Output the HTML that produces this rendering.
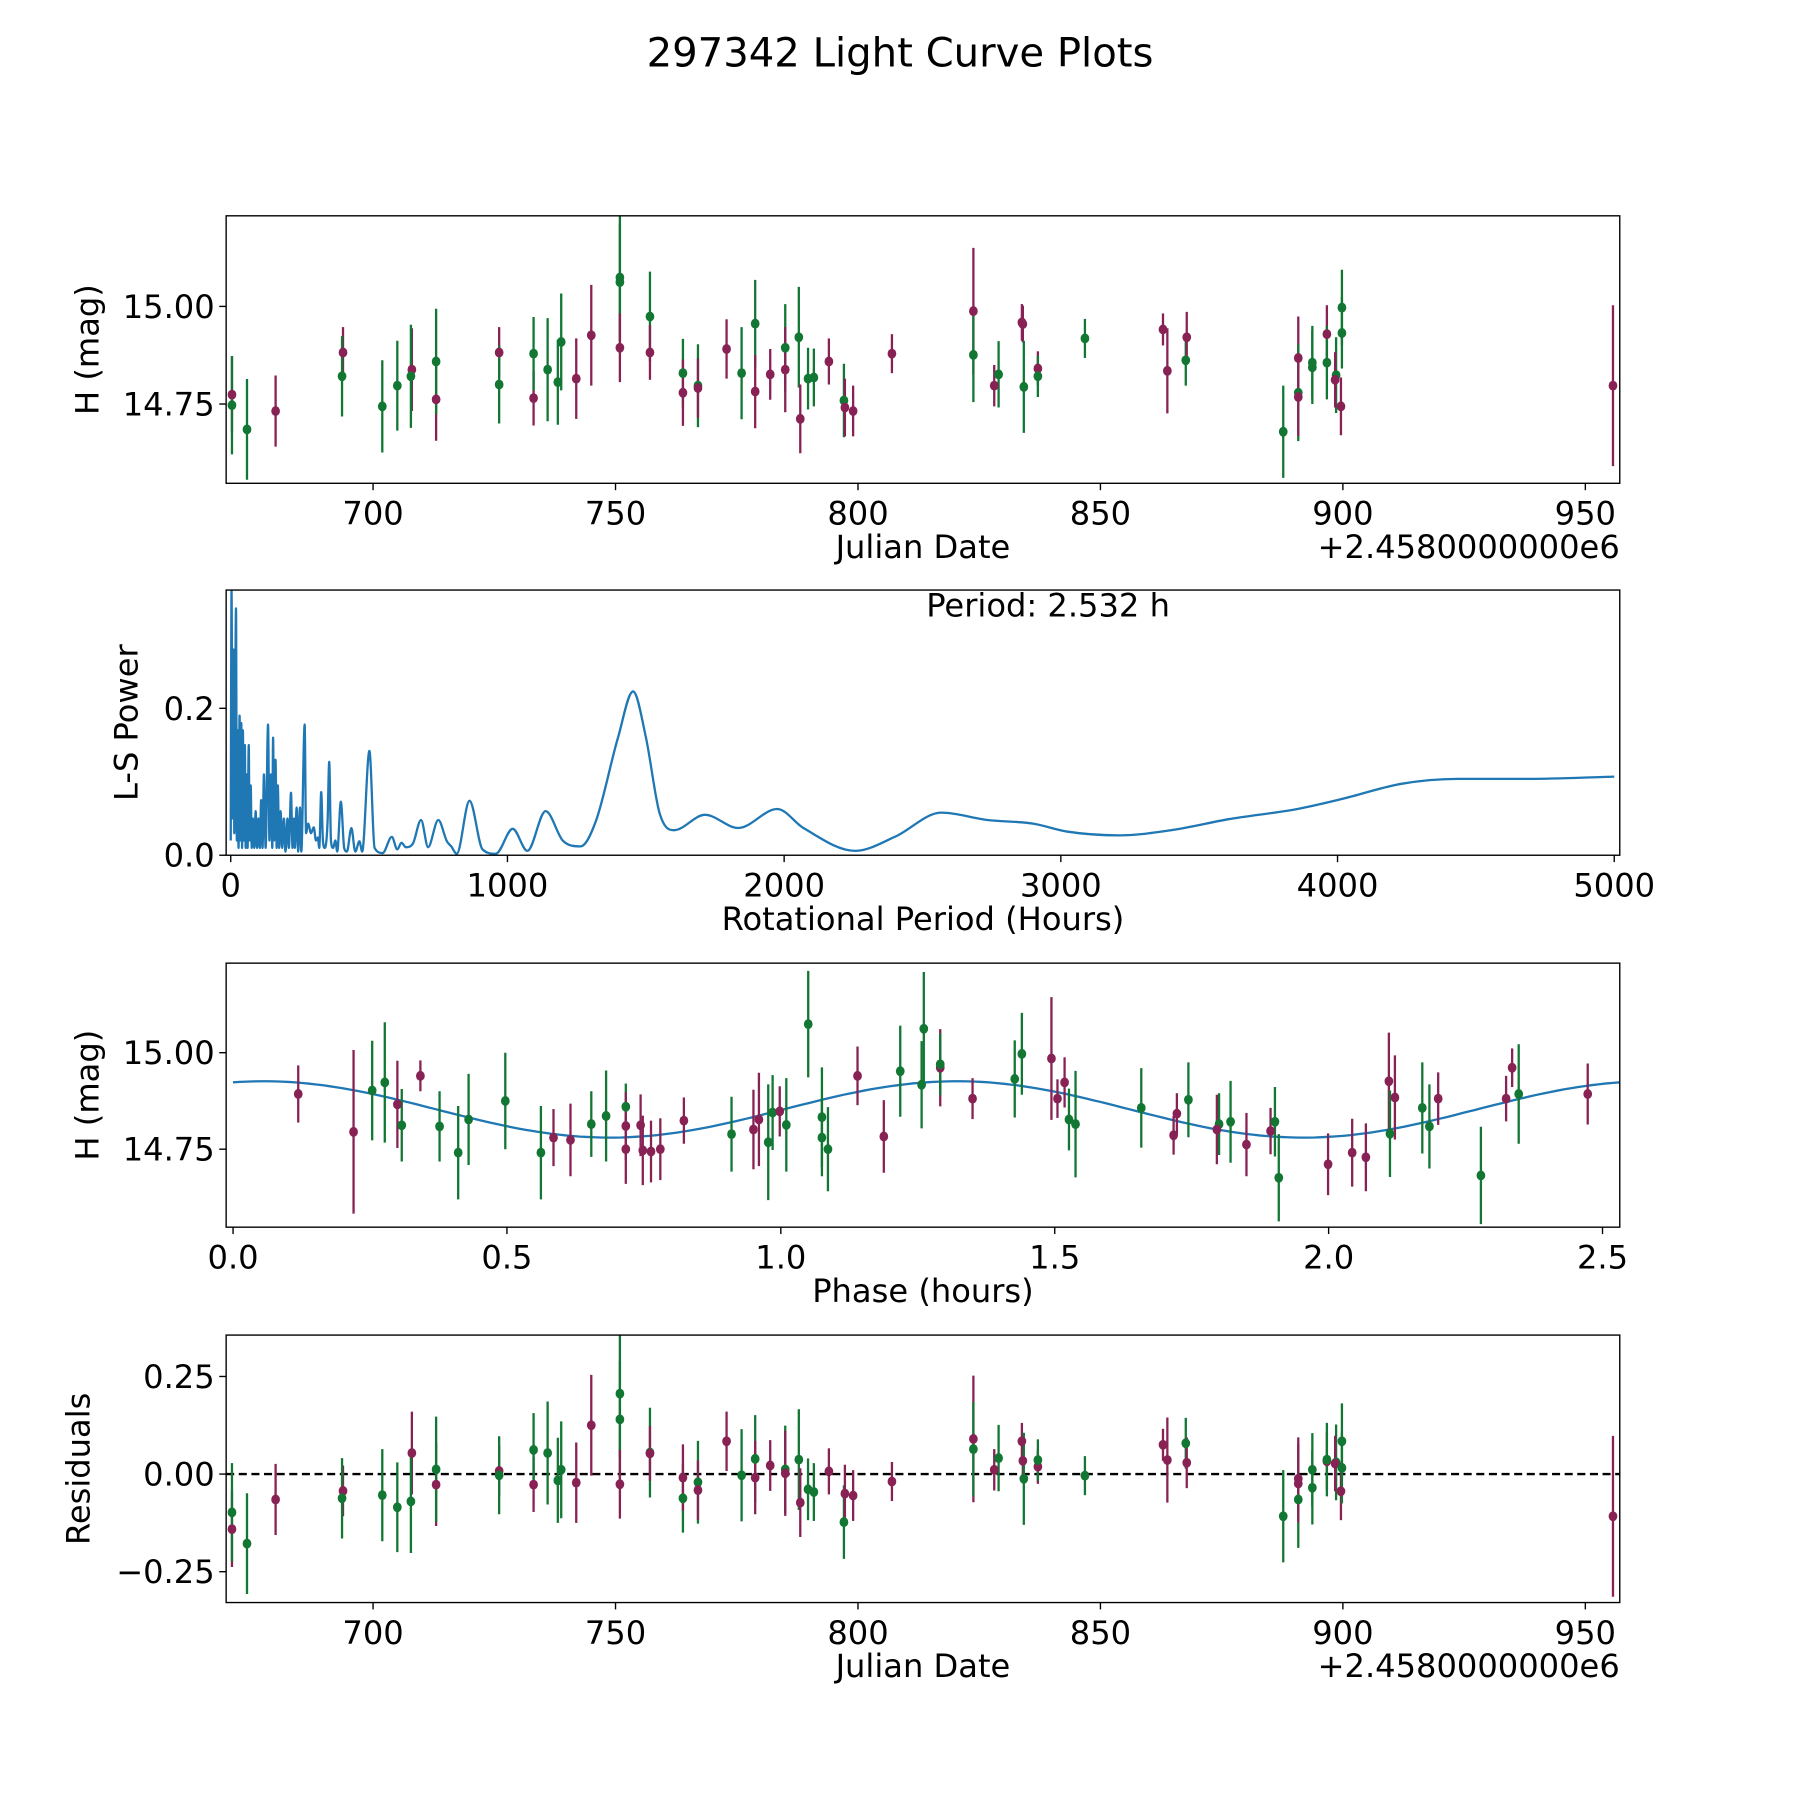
<!DOCTYPE html>
<html><head><meta charset="utf-8"><style>
html,body{margin:0;padding:0;background:#fff;}
svg{display:block;font-family:"DejaVu Sans","Liberation Sans",sans-serif;}
</style></head><body>
<svg id="fig" width="1800" height="1800" viewBox="0 0 1568 1568" xmlns="http://www.w3.org/2000/svg">
<rect width="1568" height="1568" fill="#fff"/>
<text x="784" y="58" font-size="35" text-anchor="middle">297342 Light Curve Plots</text>
<g id="p1"></g>
<g id="p2"></g>
<g id="p3"></g>
<g id="p4"></g>
</svg>
<script>
// Light curve data (Julian date offset, H mag, error, filter)
const dates=[670.9,670.9,674.0,679.9,693.8,693.6,701.9,705.0,708.0,707.8,713.0,713.0,726.0,726.0,733.1,733.1,736.0,738.1,738.8,741.9,745.0,750.9,750.9,750.9,757.1,757.1,763.9,763.9,767.0,767.0,772.9,776.0,778.8,778.8,781.9,785.0,785.0,787.8,788.1,789.7,790.9,794.0,797.1,797.3,799.0,807.0,823.8,823.8,828.1,829.0,833.8,834.0,834.2,837.1,837.1,846.8,862.9,863.8,867.6,867.8,887.7,890.8,890.8,890.8,893.7,893.7,896.7,896.7,898.6,898.4,899.6,899.8,899.8,955.7];
const mags=[14.774,14.747,14.685,14.732,14.882,14.821,14.744,14.797,14.838,14.821,14.762,14.859,14.882,14.8,14.765,14.879,14.838,14.806,14.909,14.815,14.926,15.074,15.062,14.894,14.974,14.882,14.829,14.779,14.797,14.791,14.891,14.829,14.956,14.782,14.826,14.894,14.838,14.921,14.712,14.815,14.818,14.859,14.759,14.741,14.732,14.879,14.988,14.876,14.797,14.826,14.959,14.955,14.794,14.841,14.821,14.918,14.941,14.835,14.862,14.921,14.679,14.868,14.779,14.768,14.856,14.844,14.929,14.856,14.824,14.812,14.744,14.997,14.932,14.797];
const errs=[0.097,0.126,0.129,0.091,0.065,0.103,0.118,0.115,0.106,0.132,0.106,0.135,0.065,0.1,0.07,0.094,0.132,0.109,0.124,0.103,0.129,0.165,0.15,0.088,0.115,0.07,0.088,0.085,0.106,0.076,0.076,0.118,0.112,0.094,0.065,0.112,0.109,0.129,0.088,0.079,0.074,0.059,0.094,0.074,0.065,0.05,0.162,0.121,0.053,0.085,0.047,0.047,0.118,0.044,0.053,0.05,0.041,0.109,0.065,0.065,0.118,0.106,0.124,0.1,0.094,0.094,0.074,0.094,0.097,0.071,0.074,0.097,0.091,0.206];
const bands=["m","g","g","m","m","g","g","g","m","g","m","g","m","g","m","g","g","g","g","m","m","g","g","m","g","m","g","m","g","m","m","g","g","m","m","g","m","g","m","g","g","m","g","m","m","m","m","g","m","g","m","m","g","m","g","g","m","m","g","m","g","m","g","m","g","g","m","g","g","m","m","g","g","m"];
const resids=[-0.141,-0.098,-0.178,-0.065,-0.043,-0.062,-0.054,-0.085,0.054,-0.07,-0.027,0.012,0.008,-0.003,-0.027,0.062,0.054,-0.016,0.011,-0.022,0.125,0.206,0.14,-0.026,0.055,0.053,-0.062,-0.009,-0.021,-0.041,0.084,-0.003,0.039,-0.009,0.022,0.012,0.002,0.037,-0.073,-0.039,-0.046,0.007,-0.123,-0.05,-0.055,-0.019,0.09,0.064,0.011,0.041,0.084,0.034,-0.012,0.019,0.036,-0.004,0.075,0.036,0.079,0.029,-0.108,-0.012,-0.065,-0.024,0.011,-0.035,0.033,0.037,0.03,0.027,-0.044,0.084,0.016,-0.108];
// Phase-folded data
const phases=[0.119,0.220,0.254,0.277,0.300,0.308,0.342,0.377,0.411,0.430,0.497,0.562,0.585,0.616,0.654,0.681,0.717,0.717,0.717,0.744,0.748,0.763,0.780,0.823,0.910,0.950,0.960,0.977,0.985,0.998,1.010,1.050,1.075,1.075,1.086,1.140,1.188,1.218,1.257,1.261,1.291,1.291,1.350,1.427,1.440,1.494,1.505,1.518,1.526,1.538,1.658,1.717,1.723,1.744,1.800,1.796,1.821,1.850,1.894,1.902,1.909,1.999,2.043,2.068,2.110,2.112,2.121,2.171,2.184,2.200,2.278,2.324,2.335,2.347,2.473];
const pmags=[14.893,14.795,14.902,14.923,14.866,14.812,14.940,14.809,14.741,14.827,14.875,14.741,14.780,14.774,14.815,14.836,14.860,14.810,14.750,14.812,14.747,14.744,14.750,14.824,14.789,14.801,14.827,14.768,14.845,14.848,14.813,15.074,14.833,14.780,14.750,14.940,14.783,14.952,14.917,15.062,14.961,14.970,14.881,14.932,14.997,14.985,14.881,14.923,14.827,14.815,14.857,14.786,14.842,14.878,14.815,14.801,14.821,14.762,14.797,14.821,14.676,14.711,14.741,14.729,14.926,14.790,14.884,14.857,14.809,14.881,14.682,14.881,14.961,14.893,14.893];
const perrs=[0.074,0.212,0.129,0.156,0.113,0.094,0.04,0.091,0.121,0.118,0.125,0.121,0.074,0.094,0.085,0.118,0.06,0.088,0.09,0.08,0.09,0.08,0.08,0.06,0.097,0.103,0.121,0.15,0.097,0.065,0.121,0.138,0.129,0.1,0.109,0.076,0.094,0.118,0.113,0.147,0.1,0.08,0.053,0.1,0.106,0.159,0.05,0.065,0.08,0.138,0.103,0.05,0.053,0.097,0.08,0.09,0.106,0.082,0.06,0.09,0.113,0.08,0.088,0.088,0.126,0.112,0.109,0.118,0.109,0.068,0.126,0.059,0.05,0.129,0.079];
const pbands=["m","m","g","g","m","g","m","g","g","g","g","g","m","m","g","g","g","m","m","m","m","m","m","m","g","m","m","g","g","m","g","g","g","g","g","m","m","g","g","g","m","g","m","g","g","m","m","m","g","g","g","m","m","g","g","m","g","m","m","g","g","m","m","m","m","g","m","g","g","m","g","m","m","g","m"];
// Fit model parameters
const fitMean=14.853, fitAmp=0.073, fitPeriod=2.532, fitPeak=0.055;
// Periodogram
const lsPeriods=[0,3,6,10,13,19,22,25,28,32,35,38,41,44,47,51,54,58,61,65,68,72,76,80,85,90,95,100,105,110,115,120,126,135,140,145,150,153,157,162,166,170,175,180,186,192,198,205,210,218,223,228,232,238,244,250,255,267,272,280,290,300,308,315,320,327,333,340,350,356,362,370,378,385,398,410,420,436,450,465,475,501,520,549,582,602,617,633,657,688,713,750,781,797,817,863,910,958,1019,1072,1138,1200,1264,1320,1400,1454,1500,1550,1602,1714,1834,1975,2070,2257,2400,2568,2734,2900,3025,3212,3398,3606,3855,4021,4228,4436,4685,5000];
const lsPower=[0.02,0.36,0.05,0.28,0.03,0.336,0.02,0.17,0.01,0.19,0.02,0.18,0.01,0.17,0.02,0.15,0.01,0.11,0.01,0.15,0.02,0.095,0.01,0.05,0.01,0.06,0.01,0.05,0.01,0.075,0.01,0.11,0.01,0.178,0.02,0.11,0.01,0.16,0.02,0.13,0.01,0.095,0.01,0.06,0.01,0.05,0.005,0.05,0.01,0.085,0.01,0.05,0.01,0.065,0.005,0.065,0.005,0.178,0.03,0.043,0.03,0.038,0.02,0.024,0.01,0.086,0.02,0.01,0.047,0.127,0.02,0.01,0.02,0.005,0.073,0.01,0.005,0.037,0.005,0.019,0.005,0.142,0.01,0.003,0.025,0.008,0.017,0.011,0.015,0.048,0.011,0.048,0.019,0.012,0.002,0.074,0.008,0.002,0.036,0.006,0.06,0.02,0.012,0.047,0.161,0.223,0.161,0.057,0.034,0.055,0.037,0.063,0.037,0.006,0.025,0.058,0.048,0.043,0.032,0.027,0.034,0.049,0.063,0.077,0.097,0.104,0.104,0.107];
const jdTicks=[700,750,800,850,900,950];
const magTicks=[14.75,15.00];
const lsXTicks=[0,1000,2000,3000,4000,5000];
const lsYTicks=[0.0,0.2];
const phaseTicks=[0.0,0.5,1.0,1.5,2.0,2.5];
const residTicks=[0.25,0.00,-0.25];

const NS="http://www.w3.org/2000/svg";
const COL={m:"#882255",g:"#117733"};
const TFS=28, LFS=28;
function mk(parent,tag,attrs){const e=document.createElementNS(NS,tag);for(const k in attrs)e.setAttribute(k,attrs[k]);parent.appendChild(e);return e;}
function lin(d0,d1,r0,r1){return v=>r0+(v-d0)*(r1-r0)/(d1-d0);}
function fmt(v,dec){let s=v.toFixed(dec);if(v<0)s="\u2212"+s.slice(1);return s;}
function monoPath(xs,ys){
  const n=xs.length;const d=[],m=new Array(n);
  for(let i=0;i<n-1;i++)d.push((ys[i+1]-ys[i])/(xs[i+1]-xs[i]));
  m[0]=d[0];m[n-1]=d[n-2];
  for(let i=1;i<n-1;i++){ if(d[i-1]*d[i]<=0)m[i]=0; else m[i]=(d[i-1]+d[i])/2; }
  for(let i=0;i<n-1;i++){ if(d[i]===0){m[i]=0;m[i+1]=0;continue;}
    const a=m[i]/d[i],b=m[i+1]/d[i],s=a*a+b*b; if(s>9){const t=3/Math.sqrt(s);m[i]=t*a*d[i];m[i+1]=t*b*d[i];}}
  let p="M"+xs[0].toFixed(1)+","+ys[0].toFixed(1);
  for(let i=0;i<n-1;i++){const h=(xs[i+1]-xs[i])/3;
    p+=" C"+(xs[i]+h).toFixed(1)+","+(ys[i]+m[i]*h).toFixed(1)+" "+(xs[i+1]-h).toFixed(1)+","+(ys[i+1]-m[i+1]*h).toFixed(1)+" "+xs[i+1].toFixed(1)+","+ys[i+1].toFixed(1);}
  return p;
}

function axes(g,box,sx,sy,xt,xdec,yt,ydec,xlabel,ylabel,ylabX,offset,name){
  const [L,T,R,B]=box;
  const fr=mk(g,"rect",{x:L,y:T,width:R-L,height:B-T,fill:"none",stroke:"#000","stroke-width":1.2});
  
  
  xt.forEach(v=>{const x=sx(v);
    const t=mk(g,"line",{x1:x,x2:x,y1:B,y2:B+6,stroke:"#000","stroke-width":1.2});
    
    
    const tx=mk(g,"text",{x:x,y:B+36,"font-size":TFS,"text-anchor":"middle"});tx.textContent=fmt(v,xdec);
    
    
  });
  yt.forEach(v=>{const y=sy(v);
    const t=mk(g,"line",{x1:L-6,x2:L,y1:y,y2:y,stroke:"#000","stroke-width":1.2});
    
    
    const tx=mk(g,"text",{x:L-10,y:y+10,"font-size":TFS,"text-anchor":"end"});tx.textContent=fmt(v,ydec);
    
    
  });
  const xl=mk(g,"text",{x:(L+R)/2,y:B+65,"font-size":LFS,"text-anchor":"middle"});xl.textContent=xlabel;
  
  
  const yl=mk(g,"text",{x:ylabX,y:(T+B)/2,"font-size":LFS,"text-anchor":"middle",transform:`rotate(-90 ${ylabX} ${(T+B)/2})`});yl.textContent=ylabel;
  
  
  if(offset){const o=mk(g,"text",{x:R,y:B+65,"font-size":LFS,"text-anchor":"end"});o.textContent=offset;
    
    }
}
function clip(id,box){const d=mk(document.getElementById("fig"),"clipPath",{id:id});mk(d,"rect",{x:box[0],y:box[1],width:box[2]-box[0],height:box[3]-box[1]});}
function errpts(g,xs,ys,es,bs,sx,sy,name){
  const cg=mk(g,"g",{"clip-path":"url(#c"+name+")"});
  xs.forEach((xv,i)=>{const x=sx(xv);
    const l=mk(cg,"line",{x1:x,x2:x,y1:sy(ys[i]-es[i]),y2:sy(ys[i]+es[i]),stroke:COL[bs[i]],"stroke-width":2});
    
    
  });
  xs.forEach((xv,i)=>{
    const c=mk(cg,"ellipse",{cx:sx(xv),cy:sy(ys[i]),rx:3.8,ry:4.3,fill:COL[bs[i]]});
    
    
  });
}
// Panel 1
(function(){const g=document.getElementById("p1");const box=[197,188,1411,421];clip("clight",box);
  const sx=lin(669.7,957.1,197,1411), sy=lin(14.547,15.232,421,188);
  errpts(g,dates,mags,errs,bands,sx,sy,"light");
  axes(g,box,sx,sy,jdTicks,0,magTicks,2,"Julian Date","H (mag)",86,"+2.4580000000e6","light");})();
// Panel 2
(function(){const g=document.getElementById("p2");const box=[197,514,1411,745];clip("cls",box);
  const sx=lin(-16.6,5020,197,1411), sy=lin(0,0.361,745,514);
  const cg=mk(g,"g",{"clip-path":"url(#cls)"});
  const p=mk(cg,"path",{d:monoPath(lsPeriods.map(sx),lsPower.map(sy)),fill:"none",stroke:"#1f77b4","stroke-width":2,"stroke-linejoin":"round"});
  
  
  axes(g,box,sx,sy,lsXTicks,0,lsYTicks,1,"Rotational Period (Hours)","L-S Power",120,null,"ls");
  const t=mk(g,"text",{x:913,y:537,"font-size":LFS,"text-anchor":"middle"});t.textContent="Period: 2.532 h";
  
  })();
// Panel 3
(function(){const g=document.getElementById("p3");const box=[197,839,1411,1069];clip("cphase",box);
  const sx=lin(-0.0126,2.5315,197,1411), sy=lin(14.548,15.232,1069,839);
  const pts=[];for(let i=0;i<=200;i++){const p=fitPeriod*i/200;pts.push(sx(p).toFixed(1)+","+sy(fitMean+fitAmp*Math.cos(4*Math.PI*(p-fitPeak)/fitPeriod)).toFixed(1));}
  const cg=mk(g,"g",{"clip-path":"url(#cphase)"});
  const l=mk(cg,"polyline",{points:pts.join(" "),fill:"none",stroke:"#1f77b4","stroke-width":2});
  
  
  errpts(g,phases,pmags,perrs,pbands,sx,sy,"phase");
  axes(g,box,sx,sy,phaseTicks,1,magTicks,2,"Phase (hours)","H (mag)",86,null,"phase");})();
// Panel 4
(function(){const g=document.getElementById("p4");const box=[197,1163,1411,1396];clip("cresid",box);
  const sx=lin(669.7,957.1,197,1411), sy=lin(-0.329,0.356,1396,1163);
  const z=mk(g,"line",{x1:197,x2:1411,y1:sy(0),y2:sy(0),stroke:"#000","stroke-width":2,"stroke-dasharray":"7,4"});
  
  
  errpts(g,dates,resids,errs,bands,sx,sy,"resid");
  axes(g,box,sx,sy,jdTicks,0,residTicks,2,"Julian Date","Residuals",78,"+2.4580000000e6","resid");})();
</script>
</body></html>
